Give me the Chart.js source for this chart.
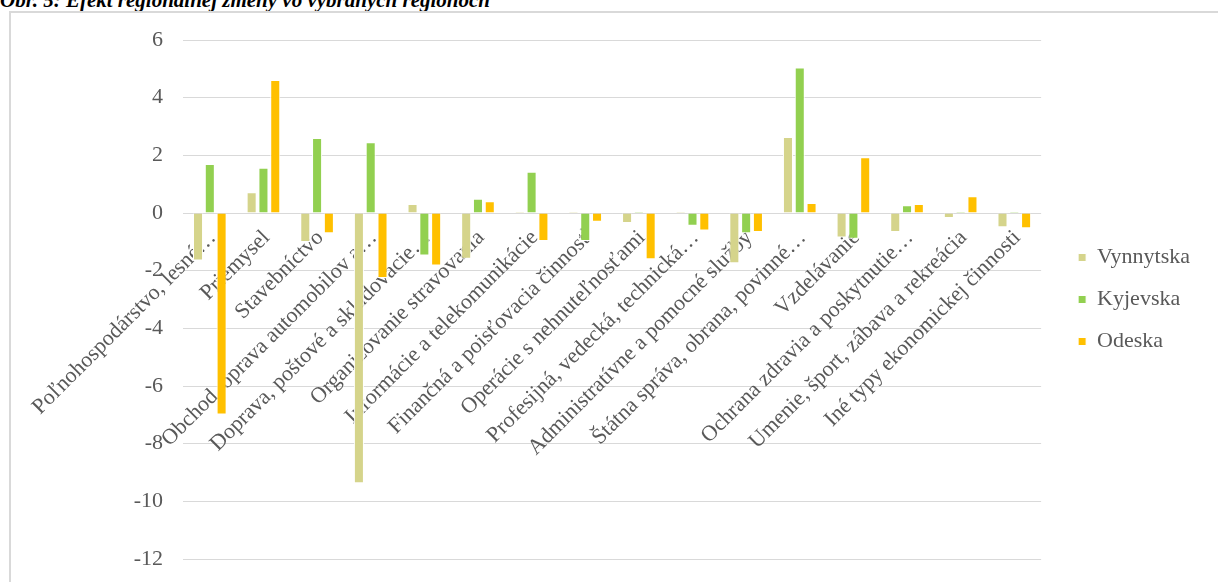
<!DOCTYPE html>
<html lang="sk">
<head>
<meta charset="utf-8"/>
<title>Efekt regionálnej zmeny</title>
<script src="https://cdn.jsdelivr.net/npm/chart.js"></script>
<style>
    body {
      margin: 0;
      background: #fff;
      overflow: hidden;
    }
    .nadpis {
      position: absolute;
      left: 0;
      top: -10px;
      font: italic bold 21px/20px 'Liberation Serif', serif;
      color: #000;
      white-space: nowrap;
    }
    .ramik {
      position: absolute;
      left: 9px;
      top: 11px;
      width: 1300px;
      height: 700px;
      border-top: 2px solid #d9d9d9;
      border-left: 2px solid #d9d9d9;
    }
    #graf {
      position: absolute;
      left: 0;
      top: 0;
    }
  </style>
</head>
<body>
<div class="nadpis">Obr. 5: Efekt regionálnej zmeny vo vybraných regiónoch</div>
<div class="ramik"></div>
<canvas id="graf" width="1218" height="582"></canvas>
<script>
    const kategorie = [
      'Poľnohospodárstvo, lesné…',
      'Priemysel',
      'Stavebníctvo',
      'Obchod, oprava automobilov a…',
      'Doprava, poštové a skladovacie…',
      'Organizovanie stravovania',
      'Informácie a telekomunikácie',
      'Finančná a poisťovacia činnosť',
      'Operácie s nehnuteľnosťami',
      'Profesijná, vedecká, technická…',
      'Administratívne a pomocné služby',
      'Štátna správa, obrana, povinné…',
      'Vzdelávanie',
      'Ochrana zdravia a poskytnutie…',
      'Umenie, šport, zábava a rekreácia',
      'Iné typy ekonomickej činnosti'
    ];
    const vynnytska = [-1.65, 0.72, -1.01, -9.37, 0.31, -1.59, 0.06, 0.05, -0.35, 0.05, -1.74, 2.64, -0.85, -0.66, -0.17, -0.49];
    const kyjevska = [1.70, 1.57, 2.60, 2.45, -1.47, 0.49, 1.43, -0.97, 0.05, -0.44, -0.70, 5.05, -0.89, 0.27, 0.05, 0.05];
    const odeska = [-6.99, 4.61, -0.70, -2.25, -1.82, 0.41, -0.97, -0.30, -1.60, -0.61, -0.66, 0.35, 1.93, 0.31, 0.58, -0.53];
    const osY = { min: -12, max: 6, krok: 2 };

    Chart.defaults.font.family = "'Liberation Serif', 'Times New Roman', serif";
    Chart.defaults.font.size = 22;
    Chart.defaults.color = '#595959';

    // legenda v Exceli je trochu dalej od grafu
    const posunLegendy = {
      id: 'posunLegendy',
      afterLayout(chart) {
        chart.legend.left += 17;
        chart.legend.right += 17;
      }
    };

    const ctx = document.getElementById('graf').getContext('2d');
    new Chart(ctx, {
      type: 'bar',
      data: {
        labels: kategorie,
        datasets: [
          { label: 'Vynnytska', data: vynnytska, backgroundColor: '#d5d48b' },
          { label: 'Kyjevska', data: kyjevska, backgroundColor: '#92d050' },
          { label: 'Odeska', data: odeska, backgroundColor: '#ffc000' }
        ]
      },
      options: {
        responsive: false,
        animation: false,
        layout: { padding: { top: 40, bottom: 23, left: 0, right: 35 } },
        datasets: {
          bar: {
            categoryPercentage: 0.66,
            barPercentage: 0.85,
            borderColor: '#ffffff',
            borderWidth: 1
          }
        },
        plugins: {
          legend: {
            position: 'right',
            labels: { boxWidth: 8, boxHeight: 8, padding: 20, color: '#595959' }
          },
          tooltip: { enabled: false }
        },
        scales: {
          x: {
            position: { y: 0 },
            z: 1,
            grid: { display: false, drawTicks: false },
            border: { display: false },
            ticks: { autoSkip: false, minRotation: 45, maxRotation: 45, padding: 12, labelOffset: 3 }
          },
          y: {
            min: osY.min,
            max: osY.max,
            afterFit: s => {
              s.width = 183;
              s.paddingTop = 0;
              s.paddingBottom = 0;
            },
            grid: { color: '#d9d9d9', drawTicks: false },
            border: { display: false },
            ticks: { stepSize: osY.krok, padding: 20 }
          }
        }
      },
      plugins: [posunLegendy]
    });
  </script>
</body>
</html>
